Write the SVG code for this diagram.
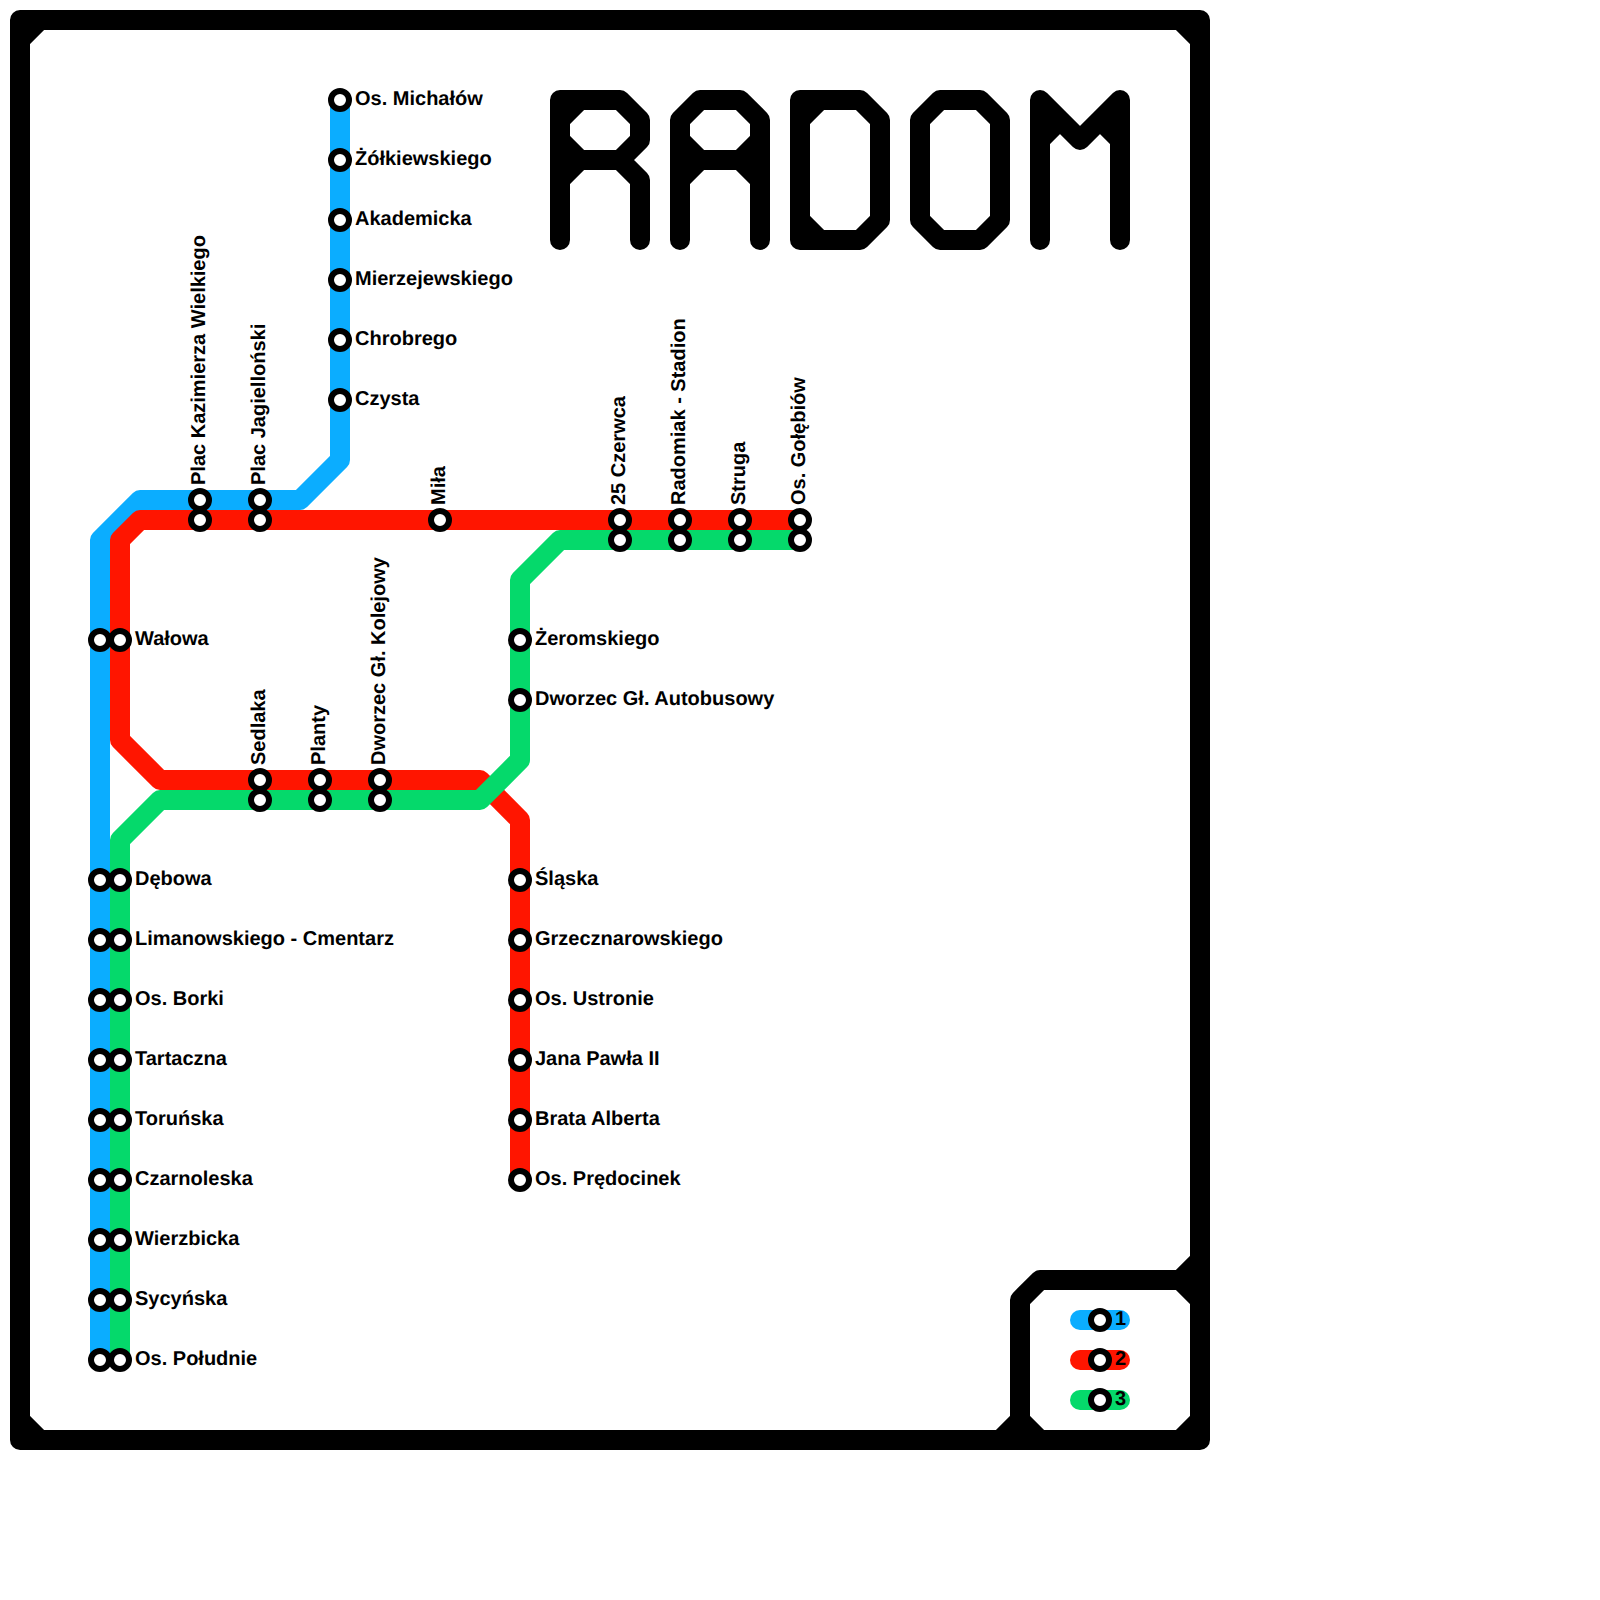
<svg xmlns="http://www.w3.org/2000/svg" width="1600" height="1600" viewBox="0 0 1600 1600">
<style>
.k{fill:none;stroke:#000;stroke-width:20;stroke-linecap:round;stroke-linejoin:round}
.c{stroke-linecap:butt}
.l{fill:none;stroke-width:20;stroke-linecap:round;stroke-linejoin:round}
.b{stroke:#0badff}.r{stroke:#ff1500}.g{stroke:#05d96b}
circle{fill:#fff;stroke:#000;stroke-width:6}
text{font-family:"Liberation Sans",Arial,sans-serif;font-weight:700;font-size:20px;fill:#000;text-rendering:geometricPrecision}
</style>
<defs><circle id="s" r="9"/></defs>
<g id="frame">
<path class="k" d="M20,20H1200V1440H20Z"/>
<path class="k" d="M1020,1440V1300L1040,1280H1200"/>
<path class="k c" d="M20,40L40,20M1180,20L1200,40M20,1420L40,1440M1180,1440L1200,1420M1000,1440L1020,1420L1040,1440M1180,1280L1200,1260M1180,1280L1200,1300"/>
</g>
<g id="title" transform="translate(560,100)">
<g id="letter-R1"><path class="k" d="M0,140V0H60L80,20V40L60,60L80,80V140M0,60H60M0,20L20,0M0,40L20,60L0,80"/></g>
<g id="letter-A" transform="translate(120,0)"><path class="k" d="M0,140V20L20,0H60L80,20V140M0,60H80M0,40L20,60L0,80M80,40L60,60L80,80"/></g>
<g id="letter-D" transform="translate(240,0)"><path class="k" d="M0,0H60L80,20V120L60,140H0ZM0,20L20,0M0,120L20,140"/></g>
<g id="letter-O" transform="translate(360,0)"><path class="k" d="M20,0H60L80,20V120L60,140H20L0,120V20Z"/></g>
<g id="letter-M" transform="translate(480,0)"><path class="k" d="M0,140V0L40,40L80,0V140M0,40L20,20M80,40L60,20"/></g>
</g>
<g id="connectors">
<path id="line-1" class="l b" d="M340,100V460L300,500H140L100,540V1360"/>
<path id="line-2" class="l r" d="M520,1180V820L480,780H160L120,740V540L140,520H800"/>
<path id="line-3" class="l g" d="M120,1360V840L160,800H480L520,760V580L560,540H800"/>
<path class="l b" d="M1080,1320H1120"/>
<path class="l r" d="M1080,1360H1120"/>
<path class="l g" d="M1080,1400H1120"/>
</g>
<g id="os-michalow"><use href="#s" x="340" y="100"/><text x="355" y="105">Os. Michałów</text></g>
<g id="zolkiewskiego"><use href="#s" x="340" y="160"/><text x="355" y="165">Żółkiewskiego</text></g>
<g id="akademicka"><use href="#s" x="340" y="220"/><text x="355" y="225">Akademicka</text></g>
<g id="mierzejewskiego"><use href="#s" x="340" y="280"/><text x="355" y="285">Mierzejewskiego</text></g>
<g id="chrobrego"><use href="#s" x="340" y="340"/><text x="355" y="345">Chrobrego</text></g>
<g id="czysta"><use href="#s" x="340" y="400"/><text x="355" y="405">Czysta</text></g>
<g id="plac-kazimierza"><use href="#s" x="200" y="500"/><use href="#s" x="200" y="520"/><text transform="translate(205,485) rotate(-90)">Plac Kazimierza Wielkiego</text></g>
<g id="plac-jagiellonski"><use href="#s" x="260" y="500"/><use href="#s" x="260" y="520"/><text transform="translate(265,485) rotate(-90)">Plac Jagielloński</text></g>
<g id="mila"><use href="#s" x="440" y="520"/><text transform="translate(445,505) rotate(-90)">Miła</text></g>
<g id="25-czerwca"><use href="#s" x="620" y="520"/><use href="#s" x="620" y="540"/><text transform="translate(625,505) rotate(-90)">25 Czerwca</text></g>
<g id="radomiak"><use href="#s" x="680" y="520"/><use href="#s" x="680" y="540"/><text transform="translate(685,505) rotate(-90)">Radomiak - Stadion</text></g>
<g id="struga"><use href="#s" x="740" y="520"/><use href="#s" x="740" y="540"/><text transform="translate(745,505) rotate(-90)">Struga</text></g>
<g id="os-golebiow"><use href="#s" x="800" y="520"/><use href="#s" x="800" y="540"/><text transform="translate(805,505) rotate(-90)">Os. Gołębiów</text></g>
<g id="walowa"><use href="#s" x="100" y="640"/><use href="#s" x="120" y="640"/><text x="135" y="645">Wałowa</text></g>
<g id="zeromskiego"><use href="#s" x="520" y="640"/><text x="535" y="645">Żeromskiego</text></g>
<g id="dworzec-aut"><use href="#s" x="520" y="700"/><text x="535" y="705">Dworzec Gł. Autobusowy</text></g>
<g id="sedlaka"><use href="#s" x="260" y="780"/><use href="#s" x="260" y="800"/><text transform="translate(265,765) rotate(-90)">Sedlaka</text></g>
<g id="planty"><use href="#s" x="320" y="780"/><use href="#s" x="320" y="800"/><text transform="translate(325,765) rotate(-90)">Planty</text></g>
<g id="dworzec-kol"><use href="#s" x="380" y="780"/><use href="#s" x="380" y="800"/><text transform="translate(385,765) rotate(-90)">Dworzec Gł. Kolejowy</text></g>
<g id="debowa"><use href="#s" x="100" y="880"/><use href="#s" x="120" y="880"/><text x="135" y="885">Dębowa</text></g>
<g id="limanowskiego"><use href="#s" x="100" y="940"/><use href="#s" x="120" y="940"/><text x="135" y="945">Limanowskiego - Cmentarz</text></g>
<g id="os-borki"><use href="#s" x="100" y="1000"/><use href="#s" x="120" y="1000"/><text x="135" y="1005">Os. Borki</text></g>
<g id="tartaczna"><use href="#s" x="100" y="1060"/><use href="#s" x="120" y="1060"/><text x="135" y="1065">Tartaczna</text></g>
<g id="torunska"><use href="#s" x="100" y="1120"/><use href="#s" x="120" y="1120"/><text x="135" y="1125">Toruńska</text></g>
<g id="czarnoleska"><use href="#s" x="100" y="1180"/><use href="#s" x="120" y="1180"/><text x="135" y="1185">Czarnoleska</text></g>
<g id="wierzbicka"><use href="#s" x="100" y="1240"/><use href="#s" x="120" y="1240"/><text x="135" y="1245">Wierzbicka</text></g>
<g id="sycynska"><use href="#s" x="100" y="1300"/><use href="#s" x="120" y="1300"/><text x="135" y="1305">Sycyńska</text></g>
<g id="os-poludnie"><use href="#s" x="100" y="1360"/><use href="#s" x="120" y="1360"/><text x="135" y="1365">Os. Południe</text></g>
<g id="slaska"><use href="#s" x="520" y="880"/><text x="535" y="885">Śląska</text></g>
<g id="grzecznarowskiego"><use href="#s" x="520" y="940"/><text x="535" y="945">Grzecznarowskiego</text></g>
<g id="os-ustronie"><use href="#s" x="520" y="1000"/><text x="535" y="1005">Os. Ustronie</text></g>
<g id="jana-pawla"><use href="#s" x="520" y="1060"/><text x="535" y="1065">Jana Pawła II</text></g>
<g id="brata-alberta"><use href="#s" x="520" y="1120"/><text x="535" y="1125">Brata Alberta</text></g>
<g id="os-predocinek"><use href="#s" x="520" y="1180"/><text x="535" y="1185">Os. Prędocinek</text></g>
<g id="legend-1"><use href="#s" x="1100" y="1320"/><text x="1115" y="1325">1</text></g>
<g id="legend-2"><use href="#s" x="1100" y="1360"/><text x="1115" y="1365">2</text></g>
<g id="legend-3"><use href="#s" x="1100" y="1400"/><text x="1115" y="1405">3</text></g>
</svg>
